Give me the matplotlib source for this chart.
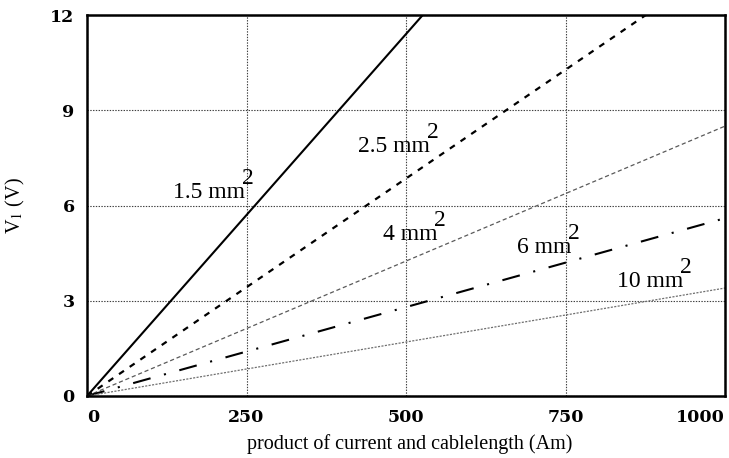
import matplotlib
matplotlib.use("Agg")
import matplotlib.pyplot as plt

plt.rcParams['lines.scale_dashes'] = False
plt.rcParams['mathtext.fontset'] = 'stix'

# Data (voltage drop at x = 1000 Am, lines start at 0)
x_vals = [0, 1000]
labels = ["1.5 mm", "2.5 mm", "4 mm", "6 mm", "10 mm"]
v_end = [22.8, 13.7, 8.5, 5.6, 3.4]
label_x = [135, 425, 464, 674, 831]
label_y = [6.24, 7.68, 4.91, 4.50, 3.43]
x_ticks = [0, 250, 500, 750, 1000]
y_ticks = [0, 3, 6, 9, 12]

styles = [
    dict(color='black', lw=1.5, ls='-'),
    dict(color='black', lw=1.6, ls=(0, (4.3, 5.0))),
    dict(color='#5a5a5a', lw=0.9, ls=(0, (3.0, 2.0))),
    dict(color='black', lw=1.5, ls=(0, (13, 10, 1.5, 10))),
    dict(color='#707070', lw=0.9, ls=(0, (1.5, 1.0))),
]

fig = plt.figure(figsize=(7.29, 4.58), dpi=100)
ax = fig.add_axes([87/729, 1-396/458, 638/729, 381/458])

for v, st in zip(v_end, styles):
    ax.plot(x_vals, [0, v], solid_capstyle='butt', dash_capstyle='butt', **st)

ax.set_xlim(0, 1000)
ax.set_ylim(0, 12)
ax.set_xticks(x_ticks)
ax.set_yticks(y_ticks)
ax.set_xticklabels([str(t) for t in x_ticks])
ax.set_yticklabels([str(t) for t in y_ticks])
ax.tick_params(length=0, labelsize=12.5, pad=9)
for lab in ax.get_xticklabels() + ax.get_yticklabels():
    lab.set_fontfamily('DejaVu Serif')
    lab.set_fontweight('bold')
xl = ax.get_xticklabels()
xl[0].set_ha('left')
xl[-1].set_ha('right')

ax.grid(True, color='#404040', lw=0.8, ls=(0, (1, 1)))
ax.set_axisbelow(True)
for sp in ax.spines.values():
    sp.set_linewidth(1.8)
    sp.set_color('black')

for txt, lx, ly in zip(labels, label_x, label_y):
    t = ax.text(lx, ly, txt, fontsize=17, family='Liberation Serif',
                ha='left', va='baseline')
    ax.annotate('2', xy=(1.0, 0.92), xycoords=t, xytext=(-2.5, 0),
                textcoords='offset points', fontsize=17,
                family='Liberation Serif', ha='left', va='baseline')

ax.set_xlabel('product of current and cablelength (Am)', fontsize=14.5,
              family='Liberation Serif')
ax.xaxis.set_label_coords(0.505, -0.10)
ax.set_ylabel(r'V$_1$ (V)', fontsize=14.5, family='Liberation Serif')
ax.yaxis.set_label_coords(-0.094, 0.5)

fig.savefig('out.png', dpi=100)
